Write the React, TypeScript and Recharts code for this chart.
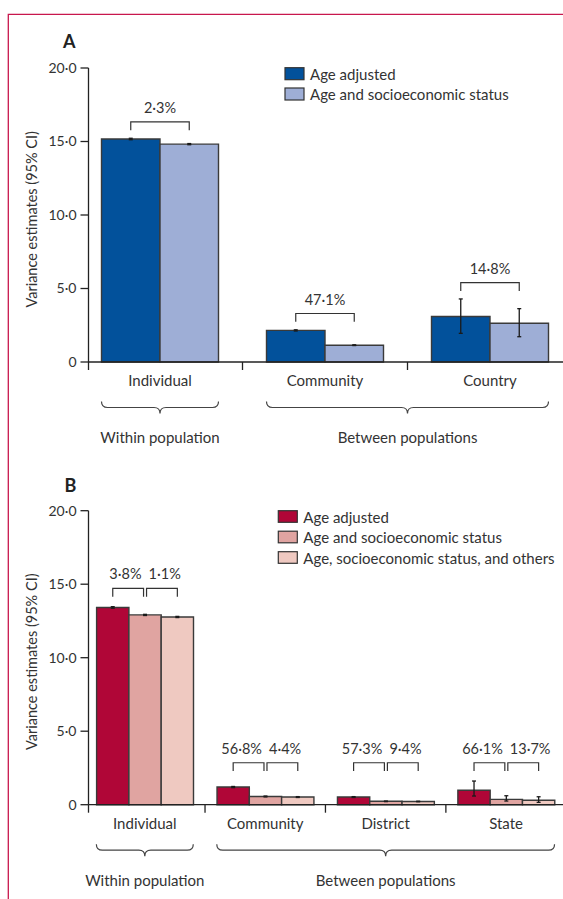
import React from "react";
import { BarChart, Bar, XAxis, YAxis, ErrorBar, LabelList } from "recharts";

const FONT = "Lato, 'Noto Sans', sans-serif";
const INK = "#333333";
const AXIS = "#222222";
const OUTLINE = "#3a3a3a";
const FRAME = "#c8174d";

// ---------- Panel A data ----------
const categoriesA = ["Individual", "Community", "Country"];
const seriesNamesA = ["Age adjusted", "Age and socioeconomic status"];
const seriesColorsA = ["#02519b", "#9eaed6"];
const ageAdjustedA = [15.17, 2.15, 3.1];
const ageAdjustedLowA = [15.12, 2.11, 1.95];
const ageAdjustedHighA = [15.22, 2.19, 4.29];
const ageSesA = [14.82, 1.14, 2.64];
const ageSesLowA = [14.78, 1.12, 1.72];
const ageSesHighA = [14.86, 1.17, 3.63];
const changeA = ["2·3%", "47·1%", "14·8%"];

// ---------- Panel B data ----------
const categoriesB = ["Individual", "Community", "District", "State"];
const seriesNamesB = [
  "Age adjusted",
  "Age and socioeconomic status",
  "Age, socioeconomic status, and others",
];
const seriesColorsB = ["#b00637", "#e0a4a1", "#efc9c1"];
const ageAdjustedB = [13.42, 1.2, 0.52, 0.98];
const ageAdjustedLowB = [13.37, 1.16, 0.49, 0.59];
const ageAdjustedHighB = [13.47, 1.24, 0.55, 1.61];
const ageSesB = [12.91, 0.56, 0.23, 0.36];
const ageSesLowB = [12.87, 0.53, 0.21, 0.25];
const ageSesHighB = [12.95, 0.59, 0.25, 0.61];
const ageSesOthersB = [12.77, 0.52, 0.22, 0.3];
const ageSesOthersLowB = [12.73, 0.49, 0.2, 0.16];
const ageSesOthersHighB = [12.81, 0.55, 0.24, 0.54];
const changeB1 = ["3·8%", "56·8%", "57·3%", "66·1%"];
const changeB2 = ["1·1%", "4·4%", "9·4%", "13·7%"];

const groupNames = ["Within population", "Between populations"];
const groupOfA = [0, 1, 1];
const groupOfB = [0, 1, 1, 1];
const yTicks = [0, 5, 10, 15, 20];
const yTitle = "Variance estimates (95% CI)";

// ---------- layout constants ----------
const W = 563;
const Y_AXIS_W = 88.5;
const PLOT_H = 294;

function buildRows(cats: string[], vals: number[][], lows: number[][], highs: number[][]) {
  return cats.map((name, i) => {
    const r: any = { name };
    vals.forEach((v, s) => {
      r["s" + s] = v[i];
      r["e" + s] = [v[i] - lows[s][i], highs[s][i] - v[i]];
    });
    return r;
  });
}

const fmtY = (v: number) => (v === 0 ? "0" : v.toFixed(1).replace(".", "·"));

function bracePath(x1: number, x2: number, yTop: number, yMid: number, yTip: number) {
  const c = (x1 + x2) / 2;
  const r = 6;
  return `M${x1},${yTop} Q${x1},${yMid} ${x1 + r},${yMid} L${c - r},${yMid} Q${c},${yMid} ${c},${yTip} Q${c},${yMid} ${c + r},${yMid} L${x2 - r},${yMid} Q${x2},${yMid} ${x2},${yTop}`;
}

type PanelCfg = {
  categories: string[];
  rows: any[];
  names: string[];
  colors: string[];
  highs: number[][];
  groupOf: number[];
  labels: string[][];
  height: number;
  marginTop: number;
  padLeft: number;
  padRight: number;
  barSize: number;
  bracketGap: number;
  sharedLevel: boolean;
};

const labelStyle = { fontSize: 14.5, fontFamily: FONT, fill: INK } as const;

function Panel({ cfg }: { cfg: PanelCfg }) {
  const n = cfg.categories.length;
  const bw = (W - Y_AXIS_W - cfg.padLeft - cfg.padRight) / n;
  const groupW = cfg.barSize * cfg.names.length;
  const xAxisH = cfg.height - cfg.marginTop - PLOT_H;

  const maxHigh = cfg.categories.map((_, i) => Math.max(...cfg.highs.map((h) => h[i])));
  const level = maxHigh.map((m, i) =>
    cfg.sharedLevel
      ? Math.max(...maxHigh.filter((_, j) => cfg.groupOf[j] === cfg.groupOf[i]))
      : m
  );

  const renderBrackets = (p: any) => {
    const vb = p.viewBox && p.viewBox.width != null ? p.viewBox : p;
    const x = Number(vb.x);
    const y = Number(vb.y);
    const width = Number(vb.width);
    const height = Number(vb.height);
    const i = cfg.categories.indexOf(p.value);
    if (i < 0) return null;
    const v = cfg.rows[i].s0;
    const ppu = height / v;
    const zero = y + height;
    const legBottom = zero - level[i] * ppu - cfg.bracketGap;
    const lineY = legBottom - 8.3;
    const bracket = (x1: number, x2: number, k: number) => (
      <path
        key={k}
        d={`M${x1},${legBottom} V${lineY} H${x2} V${legBottom}`}
        fill="none"
        stroke={INK}
        strokeWidth={1.2}
      />
    );
    if (cfg.labels.length === 1) {
      const x1 = x + width / 2;
      const x2 = x + 1.5 * width;
      return (
        <g>
          {bracket(x1, x2, 0)}
          <text x={(x1 + x2) / 2} y={lineY - 9} textAnchor="middle" {...labelStyle}>
            {cfg.labels[0][i]}
          </text>
        </g>
      );
    }
    const mid = x + 1.5 * width;
    return (
      <g>
        {bracket(x + width / 2, mid - 1.5, 0)}
        {bracket(mid + 1.5, x + 2.5 * width, 1)}
        <text x={mid - 3.5} y={lineY - 9} textAnchor="end" {...labelStyle}>
          {cfg.labels[0][i]}
        </text>
        <text x={mid + 3.5} y={lineY - 9} textAnchor="start" {...labelStyle}>
          {cfg.labels[1][i]}
        </text>
      </g>
    );
  };

  const Tick = (p: any) => {
    const { x, y, payload } = p;
    const i = cfg.categories.indexOf(payload.value);
    const edge = i === 0 ? Y_AXIS_W : x - bw / 2;
    const g = cfg.groupOf[i];
    const isFirst = i === 0 || cfg.groupOf[i - 1] !== g;
    let brace = null;
    if (isFirst) {
      let last = i;
      while (last + 1 < n && cfg.groupOf[last + 1] === g) last++;
      const x1 = x - groupW / 2;
      const x2 = x + (last - i) * bw + groupW / 2;
      const cx = (x1 + x2) / 2;
      brace = (
        <g>
          <path
            d={bracePath(x1, x2, y + 39.5, y + 45.5, y + 51.5)}
            fill="none"
            stroke="#444"
            strokeWidth={1.2}
          />
          <text x={cx} y={y + 81} textAnchor="middle" fontSize={15} fontFamily={FONT} fill={INK}>
            {groupNames[g]}
          </text>
        </g>
      );
    }
    return (
      <g>
        <line x1={edge} x2={edge} y1={y} y2={y + 8} stroke={AXIS} strokeWidth={1.3} />
        <text x={x} y={y + 24} textAnchor="middle" fontSize={15} fontFamily={FONT} fill={INK}>
          {payload.value}
        </text>
        {brace}
      </g>
    );
  };

  return (
    <BarChart
      width={W}
      height={cfg.height}
      data={cfg.rows}
      margin={{ top: cfg.marginTop, right: 0, bottom: 0, left: 0 }}
      barGap={0}
      barCategoryGap={0}
    >
      <XAxis
        dataKey="name"
        type="category"
        height={xAxisH}
        interval={0}
        padding={{ left: cfg.padLeft, right: cfg.padRight }}
        axisLine={{ stroke: AXIS, strokeWidth: 1.3 }}
        tickLine={false}
        tickSize={0}
        tickMargin={0}
        tick={<Tick />}
      />
      <YAxis
        type="number"
        width={Y_AXIS_W}
        domain={[0, 20]}
        ticks={yTicks}
        tickFormatter={fmtY}
        tickSize={8}
        tickMargin={4}
        axisLine={{ stroke: AXIS, strokeWidth: 1.3 }}
        tickLine={{ stroke: AXIS, strokeWidth: 1.3 }}
        tick={{ fontSize: 14, fill: INK, fontFamily: FONT }}
      />
      {cfg.names.map((nm, s) => (
        <Bar
          key={nm}
          dataKey={"s" + s}
          name={nm}
          fill={cfg.colors[s]}
          stroke={OUTLINE}
          strokeWidth={1.4}
          barSize={cfg.barSize}
          isAnimationActive={false}
        >
          <ErrorBar dataKey={"e" + s} width={2} stroke="#1a1a1a" strokeWidth={1.3} />
          {s === 0 ? <LabelList dataKey="name" content={renderBrackets} /> : null}
        </Bar>
      ))}
    </BarChart>
  );
}

const cfgA: PanelCfg = {
  categories: categoriesA,
  rows: buildRows(
    categoriesA,
    [ageAdjustedA, ageSesA],
    [ageAdjustedLowA, ageSesLowA],
    [ageAdjustedHighA, ageSesHighA]
  ),
  names: seriesNamesA,
  colors: seriesColorsA,
  highs: [ageAdjustedHighA, ageSesHighA],
  groupOf: groupOfA,
  labels: [changeA],
  height: 460,
  marginTop: 68,
  padLeft: -11,
  padRight: -9.5,
  barSize: 58.5,
  bracketGap: 8,
  sharedLevel: false,
};

const cfgB: PanelCfg = {
  categories: categoriesB,
  rows: buildRows(
    categoriesB,
    [ageAdjustedB, ageSesB, ageSesOthersB],
    [ageAdjustedLowB, ageSesLowB, ageSesOthersLowB],
    [ageAdjustedHighB, ageSesHighB, ageSesOthersHighB]
  ),
  names: seriesNamesB,
  colors: seriesColorsB,
  highs: [ageAdjustedHighB, ageSesHighB, ageSesOthersHighB],
  groupOf: groupOfB,
  labels: [changeB1, changeB2],
  height: 449,
  marginTop: 60.7,
  padLeft: -3.9,
  padRight: -3.3,
  barSize: 32.3,
  bracketGap: 10,
  sharedLevel: true,
};

function LegendBlock({
  names,
  colors,
  x,
  y,
  pitch,
  sw,
  sh,
}: {
  names: string[];
  colors: string[];
  x: number;
  y: number;
  pitch: number;
  sw: number;
  sh: number;
}) {
  return (
    <g>
      {names.map((nm, i) => (
        <g key={nm}>
          <rect
            x={x}
            y={y + i * pitch}
            width={sw}
            height={sh}
            fill={colors[i]}
            stroke="#333"
            strokeWidth={1.2}
          />
          <text
            x={x + sw + 6}
            y={y + i * pitch + sh + 0.3}
            fontSize={15}
            fontFamily={FONT}
            fill={INK}
          >
            {nm}
          </text>
        </g>
      ))}
    </g>
  );
}

export default function App() {
  return (
    <div
      style={{
        position: "absolute",
        left: 0,
        top: 0,
        width: W,
        height: 899,
        background: "#fff",
        overflow: "hidden",
        fontFamily: FONT,
      }}
    >
      <div style={{ position: "absolute", left: 0, top: 0 }}>
        <Panel cfg={cfgA} />
      </div>
      <div style={{ position: "absolute", left: 0, top: 450 }}>
        <Panel cfg={cfgB} />
      </div>
      <svg
        width={W}
        height={899}
        style={{ position: "absolute", left: 0, top: 0, pointerEvents: "none" }}
      >
        <path d={`M${W},14.3 H8.3 V899`} fill="none" stroke={FRAME} strokeWidth={1.3} />
        <text x={63} y={48} fontSize={18} fontWeight={700} fontFamily={FONT} fill="#222">
          A
        </text>
        <text x={64.5} y={491.5} fontSize={18} fontWeight={700} fontFamily={FONT} fill="#222">
          B
        </text>
        <text
          x={37.5}
          y={219.3}
          transform="rotate(-90 37.5 219.3)"
          textAnchor="middle"
          fontSize={14.5}
          fontFamily={FONT}
          fill={INK}
        >
          {yTitle}
        </text>
        <text
          x={37.5}
          y={661.7}
          transform="rotate(-90 37.5 661.7)"
          textAnchor="middle"
          fontSize={14.5}
          fontFamily={FONT}
          fill={INK}
        >
          {yTitle}
        </text>
        <LegendBlock names={seriesNamesA} colors={seriesColorsA} x={285} y={67.7} pitch={20.3} sw={19} sh={12} />
        <LegendBlock names={seriesNamesB} colors={seriesColorsB} x={278.3} y={510.7} pitch={20.5} sw={19} sh={11.6} />
      </svg>
    </div>
  );
}
